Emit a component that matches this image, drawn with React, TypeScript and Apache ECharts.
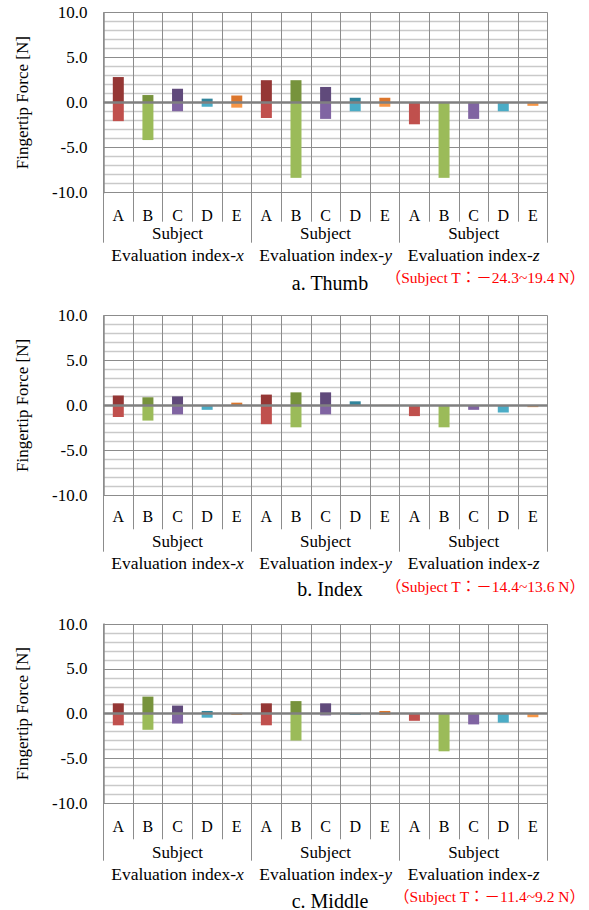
import React, { useEffect, useRef } from "react";
import * as echarts from "echarts";

// ---------- data ----------
const subjects = ["A", "B", "C", "D", "E"];
const indices = ["x", "y", "z"];
const categories = indices.flatMap((ix) => subjects.map((s) => `${ix}-${s}`));

const thumbMax = [2.85, 0.85, 1.55, 0.45, 0.8, 2.5, 2.5, 1.75, 0.55, 0.55, 0, 0, 0, 0, 0];
const thumbMin = [-2.05, -4.15, -0.95, -0.45, -0.55, -1.7, -8.35, -1.8, -0.95, -0.45, -2.4, -8.35, -1.8, -0.95, -0.35];

const indexMax = [1.1, 0.9, 1.0, 0, 0.3, 1.2, 1.45, 1.45, 0.45, 0.05, 0, 0, 0, 0, 0];
const indexMin = [-1.3, -1.7, -1.0, -0.5, 0, -2.1, -2.45, -1.0, -0.05, -0.05, -1.2, -2.45, -0.5, -0.8, -0.2];

const middleMax = [1.15, 1.9, 0.9, 0.3, 0, 1.15, 1.4, 1.15, 0, 0.3, 0, 0, 0, 0, 0];
const middleMin = [-1.3, -1.8, -1.1, -0.45, -0.15, -1.3, -3.0, -0.2, -0.15, -0.15, -0.8, -4.2, -1.2, -1.0, -0.4];

const yTicks = { min: -10, max: 10, interval: 5 };
const yAxisName = "Fingertip Force [N]";
const groupLine1 = "Subject";
const groupLine2 = "Evaluation index-";

const panelTitles = ["a. Thumb", "b. Index", "c. Middle"];
const panelNotes = [
  "（Subject T：－24.3~19.4 N）",
  "（Subject T：－14.4~13.6 N）",
  "（Subject T：－11.4~9.2 N）",
];

// ---------- styles ----------
const darkColors = ["#953735", "#77933C", "#604A7B", "#31859C", "#DC762C"];
const lightColors = ["#C0504D", "#9BBB59", "#8064A2", "#4BACC6", "#F79646"];
const FONT = "'Liberation Serif', 'Times New Roman', serif";
const NOTE_FONT = "'Liberation Serif', 'Noto Sans CJK JP', serif";
const GRID_DARK = "#8c8c8c";

const layouts = [
  { top: 12.7, height: 180, letterMargin: 15, smallTick: 29, groupMargin: 30.5, groupTick: 50, titleY: 283, noteY: 277 },
  { top: 315.7, height: 179.3, letterMargin: 13.7, smallTick: 34.3, groupMargin: 35.7, groupTick: 56.7, titleY: 588.5, noteY: 586 },
  { top: 624, height: 179.3, letterMargin: 15.2, smallTick: 36, groupMargin: 38.4, groupTick: 57.4, titleY: 900.5, noteY: 896.7 },
];

const panelData = [
  { max: thumbMax, min: thumbMin },
  { max: indexMax, min: indexMin },
  { max: middleMax, min: middleMin },
];

export default function App() {
  const ref = useRef<HTMLDivElement>(null);

  useEffect(() => {
    if (!ref.current) return;
    const chart = echarts.init(ref.current, undefined, { renderer: "svg" });

    const grids: any[] = [];
    const xAxes: any[] = [];
    const yAxes: any[] = [];
    const series: any[] = [];
    const graphics: any[] = [];

    layouts.forEach((L, i) => {
      grids.push({ left: 103.5, width: 444.2, top: L.top, height: L.height, containLabel: false });

      xAxes.push({
        type: "category",
        gridIndex: i,
        data: categories,
        position: "bottom",
        axisLine: { show: false, onZero: false },
        axisTick: { show: true, interval: 0, length: L.smallTick, lineStyle: { color: GRID_DARK, width: 1 } },
        axisLabel: {
          interval: 0,
          margin: L.letterMargin,
          fontSize: 16,
          fontFamily: FONT,
          color: "#000",
          formatter: (v: string) => v.split("-")[1],
        },
        splitLine: { show: true, interval: 0, lineStyle: { color: GRID_DARK, width: 1 } },
      });
      xAxes.push({
        type: "category",
        gridIndex: i,
        data: indices,
        position: "bottom",
        axisLine: { show: false, onZero: false },
        axisTick: { show: true, interval: 0, length: L.groupTick, lineStyle: { color: GRID_DARK, width: 1 } },
        axisLabel: {
          interval: 0,
          margin: L.groupMargin,
          color: "#000",
          formatter: (v: string) => `{s|${groupLine1}}\n{e|${groupLine2}}{i|${v}}`,
          rich: {
            s: { fontSize: 17, fontFamily: FONT, color: "#000", lineHeight: 21.5 },
            e: { fontSize: 17.5, fontFamily: FONT, color: "#000", lineHeight: 21.5 },
            i: { fontSize: 17.5, fontFamily: FONT, fontStyle: "italic", color: "#000", lineHeight: 21.5 },
          },
        },
        splitLine: { show: false },
      });

      yAxes.push({
        type: "value",
        gridIndex: i,
        min: yTicks.min,
        max: yTicks.max,
        interval: yTicks.interval,
        name: yAxisName,
        nameLocation: "middle",
        nameGap: 73,
        nameTextStyle: { fontSize: 17, fontFamily: FONT, color: "#000" },
        axisLine: { show: true, lineStyle: { color: GRID_DARK, width: 1.5 } },
        axisTick: { show: false },
        axisLabel: {
          margin: 16,
          fontSize: 17,
          fontFamily: FONT,
          color: "#000",
          formatter: (v: number) => v.toFixed(1),
        },
        splitLine: { show: true, lineStyle: { color: GRID_DARK, width: 1 } },
        minorTick: { show: false, splitNumber: 5 },
        minorSplitLine: { show: true, lineStyle: { color: "#c9c9c9", width: 1.4 } },
      });

      const d = panelData[i];
      series.push({
        type: "bar",
        xAxisIndex: 2 * i,
        yAxisIndex: i,
        barWidth: 11,
        barGap: "-100%",
        data: d.max.map((v, j) => ({ value: v, itemStyle: { color: darkColors[j % 5] } })),
      });
      series.push({
        type: "bar",
        xAxisIndex: 2 * i,
        yAxisIndex: i,
        barWidth: 11,
        barGap: "-100%",
        data: d.min.map((v, j) => ({ value: v, itemStyle: { color: lightColors[j % 5] } })),
        markLine: {
          silent: true,
          symbol: ["none", "none"],
          label: { show: false },
          lineStyle: { color: "#808080", width: 2.5, type: "solid" },
          data: [{ yAxis: 0 }],
        },
      });

      graphics.push({
        type: "text",
        x: 330,
        y: L.titleY,
        style: { text: panelTitles[i], fontSize: 20, fontFamily: FONT, fill: "#000", align: "center", verticalAlign: "middle" },
      });
      graphics.push({
        type: "text",
        x: 585,
        y: L.noteY,
        style: { text: panelNotes[i], fontSize: 15.5, fontFamily: NOTE_FONT, fill: "#ff0000", align: "right", verticalAlign: "middle" },
      });
    });

    chart.setOption({
      animation: false,
      backgroundColor: "#ffffff",
      grid: grids,
      xAxis: xAxes,
      yAxis: yAxes,
      series,
      graphic: graphics,
    });

    return () => chart.dispose();
  }, []);

  return (
    <div
      ref={ref}
      style={{ position: "absolute", left: 0, top: 0, width: 589, height: 910, background: "#fff" }}
    />
  );
}
